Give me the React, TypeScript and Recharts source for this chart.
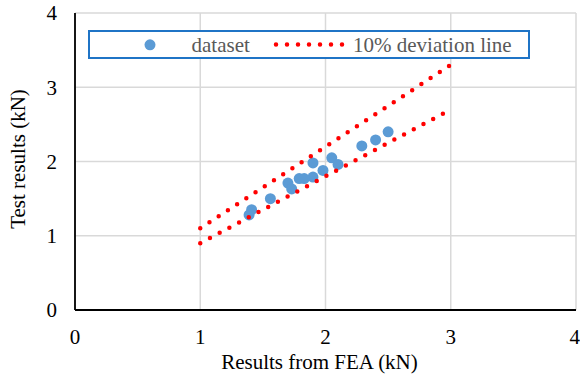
import React from 'react';
import { ScatterChart, Scatter, XAxis, YAxis, CartesianGrid, Legend, Label } from 'recharts';

const feaResults = [1.39, 1.41, 1.56, 1.70, 1.73, 1.79, 1.83, 1.90, 1.90, 1.98, 2.05, 2.10, 2.29, 2.40, 2.50];
const testResults = [1.28, 1.35, 1.50, 1.71, 1.63, 1.77, 1.77, 1.79, 1.98, 1.88, 2.05, 1.96, 2.21, 2.29, 2.40];
const upperX = [1, 3];
const upperY = [1.1, 3.3];
const lowerX = [1, 3];
const lowerY = [0.9, 2.7];
const axisTicks = [0, 1, 2, 3, 4];
const seriesNames = ['dataset', '10% deviation line'];

const dataset = feaResults.map((x, i) => ({ x, y: testResults[i] }));
const upperLine = upperX.map((x, i) => ({ x, y: upperY[i] }));
const lowerLine = lowerX.map((x, i) => ({ x, y: lowerY[i] }));

const FONT = 'Liberation Serif, Tinos, "Times New Roman", "DejaVu Serif", serif';
const BLUE = '#5B9BD5';
const RED = '#FF0000';
const dotLine = { stroke: RED, strokeWidth: 4.5, strokeDasharray: '0 11', strokeLinecap: 'round' as const };

const LegendBox = () => {
  const L = 88;
  const T = 29.5;
  return (
    <div style={{ position: 'absolute', left: L, top: T, width: 441.5, height: 29.5, boxSizing: 'border-box', border: '2px solid #1F74C6', background: '#fff', pointerEvents: 'none' }}>
      <svg width={441.5} height={29.5} style={{ position: 'absolute', left: -2, top: -2, overflow: 'visible' }}>
        <g transform={`translate(${-L},${-T})`}>
          <circle cx={150} cy={44.3} r={5.5} fill={BLUE} />
          <text x={191.5} y={51} style={{ fontFamily: FONT }} fontSize={21} fill="#595959">{seriesNames[0]}</text>
          <line x1={276} y1={44} x2={343} y2={44} {...dotLine} />
          <text x={353} y={51} style={{ fontFamily: FONT }} fontSize={21} fill="#595959">{seriesNames[1]}</text>
        </g>
      </svg>
    </div>
  );
};

const XTitle = (props: any) => {
  const vb = props.viewBox || {};
  return (
    <text x={vb.x + vb.width / 2 - 6} y={369} textAnchor="middle" style={{ fontFamily: FONT }} fontSize={21} fill="#000">
      Results from FEA (kN)
    </text>
  );
};

const YTitle = () => (
  <text x={25} y={159} transform="rotate(-90 25 159)" textAnchor="middle" style={{ fontFamily: FONT }} fontSize={21} fill="#000">
    Test results (kN)
  </text>
);

const emptyShape = () => <g />;

export default function App() {
  return (
    <div style={{ position: 'absolute', left: 0, top: 0, width: 580, height: 379, background: '#fff', fontFamily: FONT }}>
      <ScatterChart width={580} height={379} margin={{ top: 13, right: 4, bottom: 0, left: 0 }} style={{ fontFamily: FONT }}>
        <CartesianGrid stroke="#D9D9D9" strokeWidth={1.5} />
        <XAxis
          type="number"
          dataKey="x"
          domain={[0, 4]}
          ticks={axisTicks}
          height={69}
          tickLine={false}
          tickSize={6}
          tickMargin={13}
          axisLine={{ stroke: '#000', strokeWidth: 1.8 }}
          tick={{ fontFamily: FONT, fontSize: 21, fill: '#000', style: { fontFamily: FONT } }}
          allowDataOverflow
        >
          <Label content={XTitle} />
        </XAxis>
        <YAxis
          type="number"
          dataKey="y"
          domain={[0, 4]}
          ticks={axisTicks}
          width={75}
          tickLine={false}
          tickSize={6}
          tickMargin={12}
          axisLine={{ stroke: '#000', strokeWidth: 1.8 }}
          tick={{ fontFamily: FONT, fontSize: 21, fill: '#000', style: { fontFamily: FONT } }}
          allowDataOverflow
        >
          <Label content={YTitle} />
        </YAxis>
        <Legend content={LegendBox} wrapperStyle={{ position: 'absolute', left: 0, top: 0, height: 0 }} />
        <Scatter name={seriesNames[0]} data={dataset} fill={BLUE} isAnimationActive={false}
          shape={(p: any) => <circle cx={p.cx} cy={p.cy} r={5.5} fill={BLUE} />} />
        <Scatter name={seriesNames[1]} data={upperLine} line={dotLine} lineType="joint" shape={emptyShape} isAnimationActive={false} />
        <Scatter name={seriesNames[1] + ' '} data={lowerLine} line={dotLine} lineType="joint" shape={emptyShape} isAnimationActive={false} />
      </ScatterChart>
    </div>
  );
}
